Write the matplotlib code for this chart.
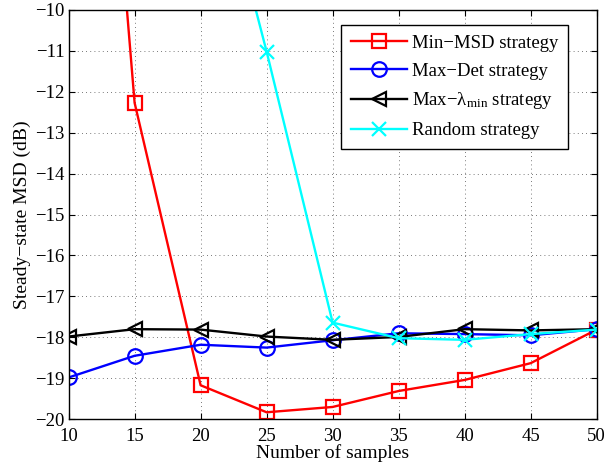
import matplotlib
matplotlib.use("Agg")
from matplotlib import pyplot as plt

plt.rcParams["font.family"] = ["Liberation Serif", "DejaVu Serif"]
plt.rcParams["mathtext.fontset"] = "custom"
plt.rcParams["mathtext.rm"] = "Liberation Serif"
plt.rcParams["mathtext.it"] = "Liberation Serif:italic"
plt.rcParams["font.size"] = 14

samples = [10, 15, 20, 25, 30, 35, 40, 45, 50]
min_msd = [7.3, -12.27, -19.17, -19.83, -19.70, -19.31, -19.04, -18.63, -17.81]
max_det = [-18.98, -18.45, -18.18, -18.25, -18.07, -17.90, -17.92, -17.95, -17.80]
max_lmin = [-17.98, -17.80, -17.81, -17.98, -18.06, -17.99, -17.80, -17.83, -17.80]
random_samples = [20, 25, 30, 35, 40, 45, 50]
random_msd = [-4.8, -11.02, -17.64, -18.02, -18.06, -17.92, -17.81]

fig = plt.figure(figsize=(6.07, 4.70), dpi=100)
ax = fig.add_axes([0.113, 0.108, 0.870, 0.871])

kw = dict(linewidth=1.7, markeredgewidth=1.6, markerfacecolor="none")
ax.plot(samples, min_msd, "-s", color="red", markersize=9.5, label="Min\u2212MSD strategy", **kw)
ax.plot(samples, max_det, "-o", color="blue", markersize=10.5, label="Max\u2212Det strategy", **kw)
ax.plot(samples, max_lmin, "-<", color="black", markersize=10.5,
        label="Max\u2212\u03bb$_{\\rm min}$ strategy", **kw)
ax.plot(random_samples, random_msd, "-x", color="cyan", markersize=9.5, label="Random strategy", **kw)

ax.set_xlim(10, 50)
ax.set_ylim(-20, -10)
ax.set_xticks(samples)
ax.set_yticks(range(-20, -9))
ax.tick_params(direction="in", length=4, top=True, right=True, labelsize=13.5)
ax.tick_params(axis="x", pad=6)
ax.tick_params(axis="y", pad=3)
ax.grid(True, linestyle=(0, (1, 4)), color="black", linewidth=0.6, alpha=0.7)
for s in ax.spines.values():
    s.set_linewidth(1.0)

ax.set_xlabel("Number of samples", labelpad=0)
ax.set_ylabel("Steady\u2212state MSD (dB)", labelpad=3)

leg = ax.legend(loc="upper right", bbox_to_anchor=(0.946, 0.963), fancybox=False,
                edgecolor="black", framealpha=1, fontsize=13.5, handlelength=3.0,
                borderpad=0.5, labelspacing=0.58, handletextpad=0.3, borderaxespad=0)
leg.get_frame().set_linewidth(1.0)

plt.savefig("out.png", dpi=100)
plt.close()
